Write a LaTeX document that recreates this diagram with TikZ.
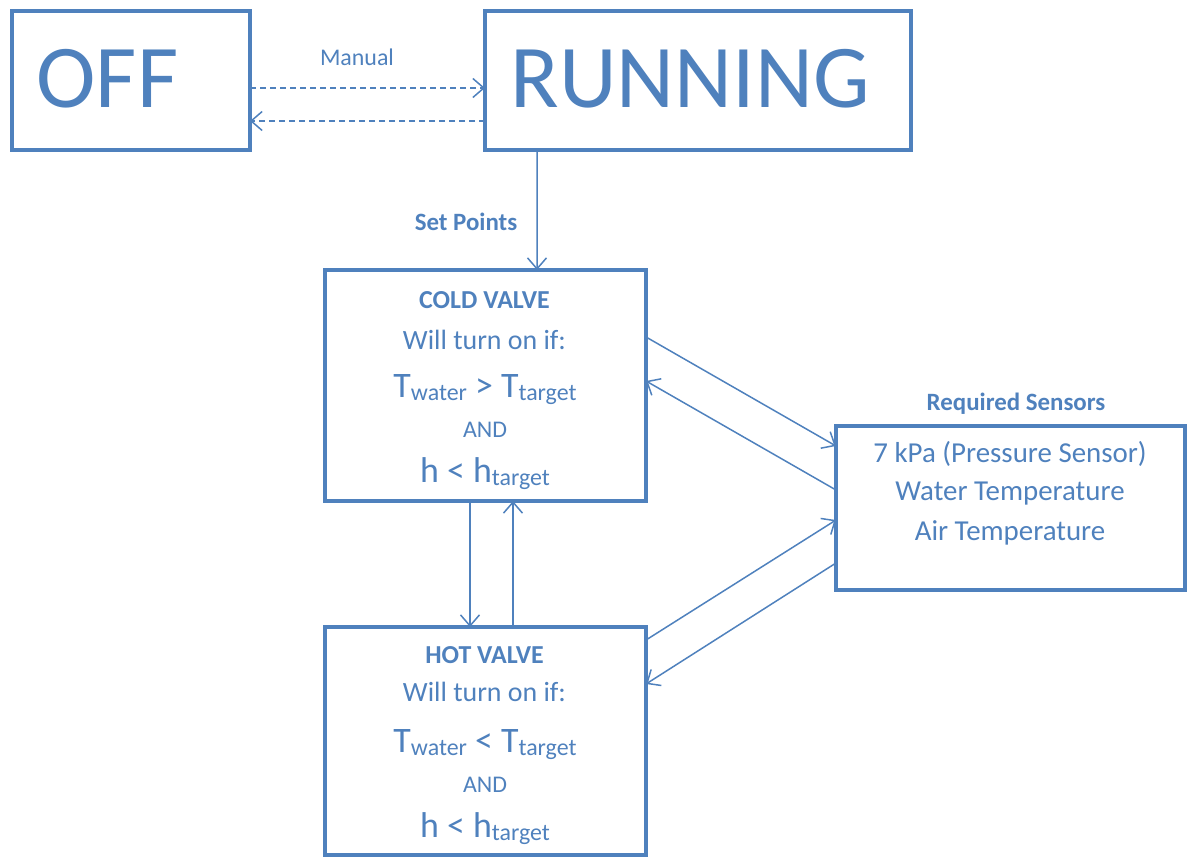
\documentclass[tikz,border=0pt]{standalone}
\usepackage{fontspec}
\setmainfont{Carlito}
\usetikzlibrary{arrows.meta,calc}
\definecolor{ob}{RGB}{79,129,189}
\newcommand{\fsz}[1]{\fontsize{#1}{#1}\selectfont}
\newcommand{\subt}[1]{\raisebox{-3bp}{\fsz{24}#1}}
\begin{document}
\begin{tikzpicture}[x=1bp,y=-1bp,
  box/.style={draw=ob, line width=4bp, rectangle, inner sep=0pt, outer sep=0pt},
  txt/.style={text=ob, inner sep=0pt, anchor=base},
  arr/.style={draw=ob, line width=1.5bp, -{Straight Barb[length=11bp,width=19bp,line width=1.5bp]}},
  darr/.style={arr, dash pattern=on 6bp off 4bp}]
\useasboundingbox (0,0) rectangle (1189,858);
% boxes
\node[box, minimum width=238bp, minimum height=139bp] (off) at (131,80.5) {};
\node[box, minimum width=426bp, minimum height=139bp] (run) at (698,80.5) {};
\node[box, minimum width=321bp, minimum height=231bp] (cold) at (485.5,385.5) {};
\node[box, minimum width=321bp, minimum height=228bp] (hot) at (485.5,741) {};
\node[box, minimum width=349bp, minimum height=164bp] (sens) at (1010.5,508) {};
% big labels
\node[txt] (offt) at (107.5,107) {\fsz{90}OFF};
\node[txt] (runt) at (690,107) {\fsz{90}RUNNING};
% edge labels
\node[txt] (manual) at (357,65) {\fsz{24}Manual};
\node[txt] (setp) at (466,230) {\fsz{25}\bfseries Set Points};
\node[txt] (reqs) at (1016,410) {\fsz{25}\bfseries Required Sensors};
% cold valve text
\node[txt] (c1) at (484.5,308) {\fsz{26}\bfseries COLD VALVE};
\node[txt] (c2) at (484.5,349) {\fsz{28}Will turn on if:};
\node[txt] (c3) at (485,397) {\fsz{36}T\subt{water} > T\subt{target}};
\node[txt] (c4) at (485,437) {\fsz{24}AND};
\node[txt] (c5) at (485,482) {\fsz{36}h < h\subt{target}};
% hot valve text
\node[txt] (h1) at (484.5,663) {\fsz{26}\bfseries HOT VALVE};
\node[txt] (h2) at (484.5,701) {\fsz{28}Will turn on if:};
\node[txt] (h3) at (485,752) {\fsz{36}T\subt{water} < T\subt{target}};
\node[txt] (h4) at (485,792) {\fsz{24}AND};
\node[txt] (h5) at (485,837) {\fsz{36}h < h\subt{target}};
% sensors text
\node[txt] (s1) at (1010,462) {\fsz{29}7 kPa (Pressure Sensor)};
\node[txt] (s2) at (1010,500) {\fsz{29}Water Temperature};
\node[txt] (s3) at (1010,540) {\fsz{29}Air Temperature};
% connectors
\draw[darr] ($(off.east)+(0,7.5)$) -- ($(run.west)+(0,7.5)$);
\draw[darr] ($(run.west)+(0,40.5)$) -- ($(off.east)+(0,40.5)$);
\draw[arr] ($(run.south)+(-161,0)$) -- ($(cold.north)+(51.5,0)$);
\draw[arr] ($(cold.south)+(-15.5,0)$) -- ($(hot.north)+(-15.5,0)$);
\draw[arr] ($(hot.north)+(27.5,0)$) -- ($(cold.south)+(27.5,0)$);
\draw[arr] ($(cold.east)+(0,-48.5)$) -- ($(sens.west)+(0,-62)$);
\draw[arr] ($(sens.west)+(0,-18)$) -- ($(cold.east)+(0,-4.5)$);
\draw[arr] ($(hot.east)+(0,-101)$) -- ($(sens.west)+(0,12)$);
\draw[arr] ($(sens.west)+(0,55)$) -- ($(hot.east)+(0,-57)$);
\end{tikzpicture}
\end{document}
